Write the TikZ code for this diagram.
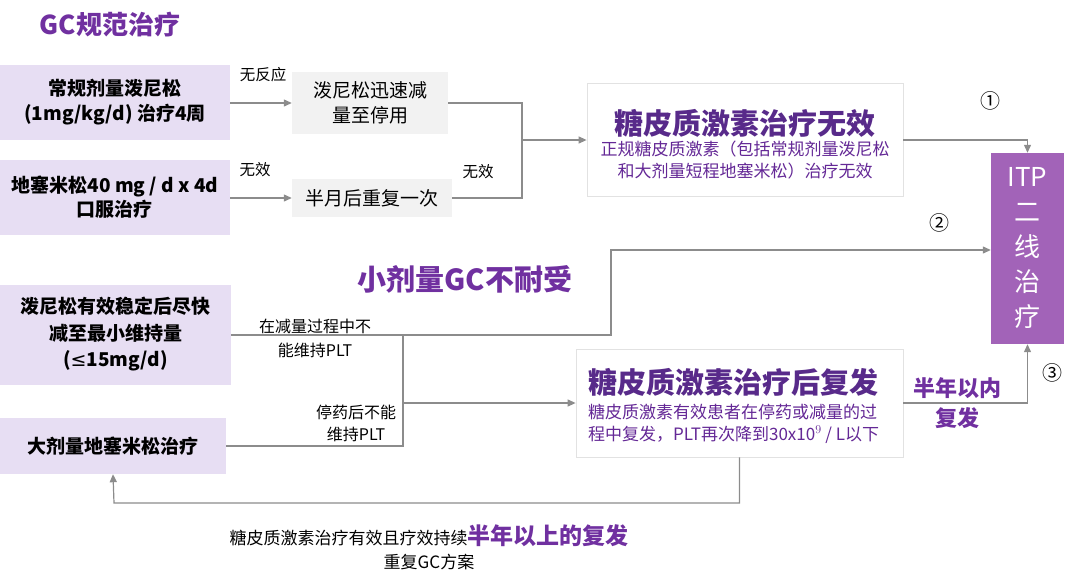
\documentclass[tikz,border=0pt]{standalone}
\usepackage{fontspec}
\setmainfont{Noto Sans CJK SC}
\newfontfamily\symfont{DejaVu Sans}
\usetikzlibrary{arrows.meta,positioning}

\definecolor{boxlilac}{RGB}{231,222,243}
\definecolor{boxgray}{RGB}{242,242,242}
\definecolor{boxedge}{RGB}{226,226,226}
\definecolor{itpfill}{RGB}{162,99,184}
\definecolor{headpurple}{RGB}{112,48,160}
\definecolor{deeppurple}{RGB}{88,42,138}
\definecolor{subpurple}{RGB}{100,40,150}
\definecolor{linegray}{RGB}{140,140,140}

\newcommand*{\setfs}[2]{\fontsize{#1}{#2}\selectfont}
\newcommand*{\mergex}{522}
\newcommand*{\splitx}{403}
\newcommand*{\risex}{611}
\newcommand*{\loopy}{503}

\begin{document}
\begin{tikzpicture}
[
	x=1pt, y=-1pt,
	>={Triangle[length=8pt,width=7pt]},
	abox/.style={fill=boxlilac,inner sep=0pt,align=center,font=\setfs{19}{25}\bfseries},
	gbox/.style={fill=boxgray,inner sep=0pt,align=center,font=\setfs{19}{25}},
	cbox/.style={draw=boxedge,fill=white,line width=0.8pt,inner sep=0pt},
	itpbox/.style={fill=itpfill,text=white,inner sep=0pt,align=center,font=\setfs{26}{35}},
	ctitle/.style={text=deeppurple,inner sep=0pt,font=\setfs{29}{34}\bfseries},
	csub/.style={text=subpurple,inner sep=0pt,font=\setfs{17}{22}},
	lbl/.style={inner sep=0pt,align=center,font=\setfs{15.5}{22}},
	head/.style={text=headpurple,inner sep=0pt,align=center,font=\bfseries},
	num/.style={inner sep=0pt,font=\setfs{20}{24}},
	conn/.style={draw=linegray,line width=1.2pt},
	arr/.style={conn,->,linegray}
]

	\useasboundingbox (0,0) rectangle (1080,581);

	% headings
	\node[head,font=\setfs{26}{30}\bfseries] at (110,25) (gchead) {GC规范治疗};
	\node[head,font=\setfs{29}{34}\bfseries] at (465,279) (lowhead) {小剂量GC不耐受};

	% left column
	\node[abox,minimum width=230pt,minimum height=75pt] at (115,102.5) (pred) {常规剂量泼尼松\\(1mg/kg/d) 治疗4周};
	\node[abox,minimum width=230pt,minimum height=75pt,font=\setfs{19}{24}\bfseries] at (115,197.5) (dexa) {地塞米松40 mg / d x 4d\\口服治疗};
	\node[abox,minimum width=231pt,minimum height=100pt,font=\setfs{19}{26.5}\bfseries] at (115.5,334.5) (taper) {泼尼松有效稳定后尽快\\减至最小维持量\\({\symfont\mdseries ≤}15mg/d)};
	\node[abox,minimum width=226pt,minimum height=56pt] at (113,446) (hdex) {大剂量地塞米松治疗};

	% gray steps
	\node[gbox,minimum width=156pt,minimum height=62pt] at (370,103) (fast) {泼尼松迅速减\\量至停用};
	\node[gbox,minimum width=160pt,minimum height=38pt] at (372,198) (again) {半月后重复一次};

	% result boxes
	\node[cbox,minimum width=316pt,minimum height=113pt] at (745,140) (fail) {};
	\node[ctitle] at (745,123) (failt) {糖皮质激素治疗无效};
	\node[csub,align=center] at (745,160) (fails) {正规糖皮质激素（包括常规剂量泼尼松\\和大剂量短程地塞米松）治疗无效};

	\node[cbox,minimum width=327pt,minimum height=108pt] at (739.5,403) (relapse) {};
	\node[ctitle,anchor=west] at (588,382) (relapset) {糖皮质激素治疗后复发};
	\node[csub,align=left,anchor=west] at (588,423.5) (relapses) {糖皮质激素有效患者在停药或减量的过\\程中复发，PLT再次降到30x10$^9$ / L以下};

	\node[itpbox,minimum width=73pt,minimum height=191pt] at (1027.5,248.5) (itp) {ITP\\二\\线\\治\\疗};

	% labels
	\node[lbl] at (263,75) (noresp) {无反应};
	\node[lbl] at (255,170) (noeff1) {无效};
	\node[lbl] at (478,172) (noeff2) {无效};
	\node[lbl,font=\setfs{16}{24}] at (315,338) (duringcut) {在减量过程中不\\能维持PLT};
	\node[lbl,font=\setfs{16}{22}] at (356,423) (afterstop) {停药后不能\\维持PLT};
	\node[head,font=\setfs{22}{30}\bfseries] at (957,403) (halfin) {半年以内\\复发};
	\node[lbl,font=\setfs{17}{24}] at (429,547) (repeat) {糖皮质激素治疗有效且疗效持续{\color{headpurple}\setfs{23}{24}\bfseries 半年以上的复发}\\重复GC方案};
	\node[num] at (990,101) (one) {①};
	\node[num] at (939,223) (two) {②};
	\node[num] at (1052,373) (three) {③};

	% connectors
	\coordinate (merge) at (\mergex,140);
	\coordinate (split) at (\splitx,335);
	\coordinate (rise) at (\risex,250);
	\coordinate (back) at (114,\loopy);

	\draw[arr] (pred.east |- fast.west) -- (fast.west);
	\draw[arr] (dexa.east |- again.west) -- (again.west);
	\draw[conn] (fast.east) -| (merge);
	\draw[conn] (again.east) -| (merge);
	\draw[arr] (merge) -- (fail.west);
	\draw[arr] (fail.east) -| (itp.north);

	\draw[arr] (taper.east |- split) -| (rise) -- (rise -| itp.west);
	\draw[conn] (hdex.east) -| (split);
	\draw[arr] (split |- relapse.west) -- (relapse.west);
	\draw[arr] (relapse.east) -| (itp.south);
	\draw[arr] (relapse.south) |- (back) -- (hdex.south);

\end{tikzpicture}
\end{document}
